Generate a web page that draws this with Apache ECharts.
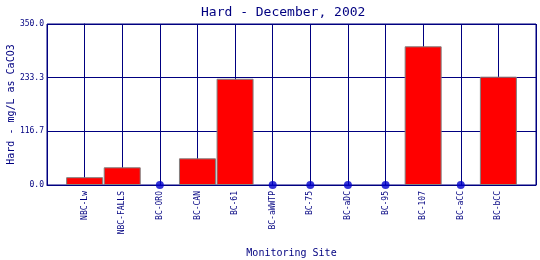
<!DOCTYPE html>
<html><head><meta charset="utf-8">
<script src="https://cdn.jsdelivr.net/npm/echarts@6/dist/echarts.min.js"></script>
<style>html,body{margin:0;padding:0;background:#fff}#c{width:540px;height:260px}</style>
</head><body><div id="c"></div>
<script>
var categories = ['NBC-Lw','NBC-FALLS','BC-ORO','BC-CAN','BC-61','BC-aWWTP','BC-75','BC-aDC','BC-95','BC-107','BC-aCC','BC-bCC'];
var hardness = [17, 38.5, null, 58, 231, null, null, null, null, 301.5, null, 235.5];
var yTicks = [0, 116.7, 233.3, 350];
var titleText = 'Hard - December, 2002';
var yName = 'Hard - mg/L as CaCO3';
var xName = 'Monitoring Site';

var navy = '#000080';
var font = 'DejaVu Sans Mono';
var barData = [], dotData = [];
hardness.forEach(function(v, i){
  if (v === null) dotData.push([i, 0]); else barData.push([i, v]);
});
var chart = echarts.init(document.getElementById('c'), null, {renderer:'canvas'});
chart.setOption({
  animation: false,
  backgroundColor: '#fff',
  title: {text: titleText, left: 196, top: 1, textStyle: {fontFamily: font, fontSize: 13, fontWeight: 'normal', color: navy}},
  grid: {left: 47, right: 4, top: 24, bottom: 75, show: true, borderColor: navy, borderWidth: 1, containLabel: false, outerBoundsMode: 'none'},
  xAxis: {
    type: 'value', min: -1, max: 12, interval: 1,
    name: xName, nameLocation: 'middle', nameGap: 63, nameMoveOverlap: false,
    nameTextStyle: {fontFamily: font, fontSize: 10, color: navy},
    axisLine: {show: true, lineStyle: {color: navy}},
    axisTick: {show: false},
    splitLine: {show: true, lineStyle: {color: navy, width: 1}},
    axisLabel: {rotate: 90, margin: 6, fontFamily: font, fontSize: 8, color: navy,
      formatter: function(v){ return categories[v] || ''; }}
  },
  yAxis: {
    type: 'value', min: 0, max: 350, interval: 350/3,
    name: yName, nameLocation: 'middle', nameGap: 31, nameMoveOverlap: false,
    nameTextStyle: {fontFamily: font, fontSize: 10, color: navy},
    axisLine: {show: true, lineStyle: {color: navy}},
    axisTick: {show: false},
    splitLine: {show: true, lineStyle: {color: navy, width: 1}},
    axisLabel: {margin: 3, fontFamily: font, fontSize: 8, color: navy,
      formatter: function(v){ var t = yTicks.reduce(function(a,b){return Math.abs(b-v)<Math.abs(a-v)?b:a;}); return t.toFixed(1); }}
  },
  series: [
    {type: 'bar', data: barData, barWidth: 37, itemStyle: {color: '#ff0000', borderColor: '#808080', borderWidth: 1}},
    {type: 'scatter', data: dotData, symbol: 'circle', symbolSize: 8, itemStyle: {color: '#0000cc'}, z: 5}
  ]
});
</script></body></html>
